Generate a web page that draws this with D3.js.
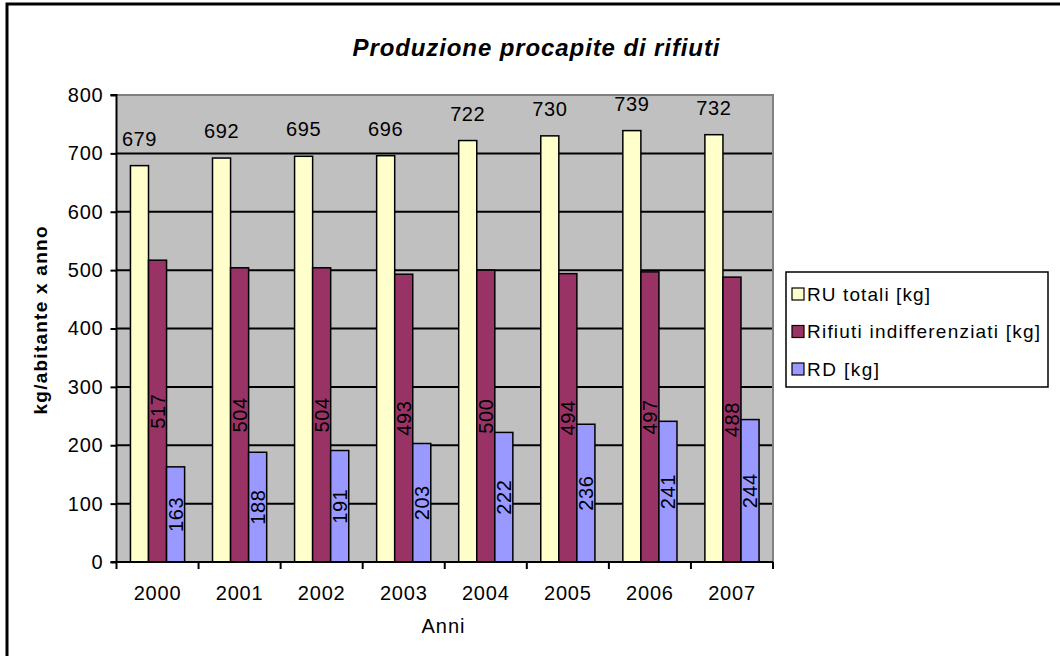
<!DOCTYPE html>
<html>
<head>
<meta charset="utf-8">
<script src="https://cdn.jsdelivr.net/npm/d3@7"></script>
<style>
  html, body { margin: 0; padding: 0; background: #fff; }
  svg { display: block; font-family: "Liberation Sans", Arial, sans-serif; }
</style>
</head>
<body>
<svg id="chart" width="1060" height="656"></svg>
<script>
// Per-capita waste production, kg per inhabitant per year
const years = ["2000", "2001", "2002", "2003", "2004", "2005", "2006", "2007"];
const seriesNames = ["RU totali [kg]", "Rifiuti indifferenziati [kg]", "RD [kg]"];
const ruTotali = [679, 692, 695, 696, 722, 730, 739, 732];
const indifferenziati = [517, 504, 504, 493, 500, 494, 497, 488];
const raccoltaDiff = [163, 188, 191, 203, 222, 236, 241, 244];
const yTicks = [0, 100, 200, 300, 400, 500, 600, 700, 800];

const seriesValues = [ruTotali, indifferenziati, raccoltaDiff];
const colors = ["#FFFFCC", "#993366", "#9999FF"];
const fontStack = "'Liberation Sans', Arial, sans-serif";

const svg = d3.select("#chart");

// Outer chart frame (top and left edges visible)
svg.append("path")
  .attr("d", "M7,656 L7,4 L1060,4")
  .attr("fill", "none")
  .attr("stroke", "#000")
  .attr("stroke-width", 3);

// Plot area bounds
const plotLeft = 116.5, plotRight = 773, plotTop = 95, plotBottom = 562;

const y = d3.scaleLinear().domain([0, 800]).range([plotBottom, plotTop]);
const xCat = d3.scaleBand().domain(years).range([plotLeft, plotRight]).padding(0);
const step = xCat.step();
const xSeries = d3.scaleBand()
  .domain(seriesNames)
  .range([step * 0.17, step * 0.83])
  .padding(0);

// Plot background
svg.append("rect")
  .attr("x", plotLeft).attr("y", plotTop)
  .attr("width", plotRight - plotLeft).attr("height", plotBottom - plotTop)
  .attr("fill", "#C0C0C0");

// Horizontal gridlines
svg.append("g")
  .selectAll("line")
  .data(yTicks.filter(d => d > 0 && d < 800))
  .join("line")
  .attr("x1", plotLeft).attr("x2", plotRight)
  .attr("y1", d => y(d)).attr("y2", d => y(d))
  .attr("stroke", "#000")
  .attr("stroke-width", 2);

// Plot area border (top and right)
svg.append("path")
  .attr("d", `M${plotLeft},${y(800)} L${plotRight},${y(800)} L${plotRight},${plotBottom}`)
  .attr("fill", "none")
  .attr("stroke", "#808080")
  .attr("stroke-width", 2);

// Bars
const rows = [];
years.forEach((yr, i) => {
  seriesNames.forEach((s, j) => {
    rows.push({ year: yr, series: s, value: seriesValues[j][i], idx: j });
  });
});

svg.append("g")
  .selectAll("rect")
  .data(rows)
  .join("rect")
  .attr("x", d => xCat(d.year) + xSeries(d.series))
  .attr("y", d => y(d.value))
  .attr("width", xSeries.bandwidth())
  .attr("height", d => y(0) - y(d.value))
  .attr("fill", d => colors[d.idx])
  .attr("stroke", "#000")
  .attr("stroke-width", 1.5);

// Value labels: totals above bars, others rotated at bar centre
const labelG = svg.append("g")
  .attr("font-size", 20)
  .attr("letter-spacing", "0.6px")
  .attr("fill", "#000");

labelG.selectAll("text.top")
  .data(rows.filter(d => d.idx === 0))
  .join("text")
  .attr("class", "top")
  .attr("x", d => xCat(d.year) + xSeries(d.series) + xSeries.bandwidth() / 2)
  .attr("y", d => y(d.value) - 20)
  .attr("text-anchor", "middle")
  .text(d => d.value);

labelG.selectAll("text.mid")
  .data(rows.filter(d => d.idx > 0))
  .join("text")
  .attr("class", "mid")
  .attr("transform", d => {
    const cx = xCat(d.year) + xSeries(d.series) + xSeries.bandwidth() / 2;
    const cy = (y(d.value) + y(0)) / 2;
    return `translate(${cx},${cy}) rotate(-90)`;
  })
  .attr("text-anchor", "middle")
  .attr("dy", "0.36em")
  .text(d => d.value);

// Y axis
const yAxis = d3.axisLeft(y).tickValues(yTicks).tickSize(6).tickPadding(7);
const yG = svg.append("g")
  .attr("transform", `translate(${plotLeft},0)`)
  .call(yAxis);
yG.attr("font-family", fontStack);
yG.select(".domain").attr("stroke", "#000").attr("stroke-width", 2)
  .attr("d", `M-6,${y(800)}H0V${plotBottom}H-6`);
yG.selectAll(".tick line").attr("stroke", "#000").attr("stroke-width", 2);
yG.selectAll(".tick text")
  .attr("font-size", 20)
  .attr("letter-spacing", "0.8px")
  .attr("fill", "#000");

// X axis: labels centred in each year slot, ticks on slot boundaries
const xAxis = d3.axisBottom(xCat).tickSize(0).tickPadding(24);
const xG = svg.append("g")
  .attr("transform", `translate(0,${plotBottom})`)
  .call(xAxis);
xG.attr("font-family", fontStack);
xG.select(".domain").attr("stroke", "#000").attr("stroke-width", 2)
  .attr("d", `M${plotLeft},0H${plotRight}`);
xG.selectAll(".tick text")
  .attr("font-size", 20)
  .attr("letter-spacing", "0.8px")
  .attr("fill", "#000");

const boundaries = years.map(d => xCat(d)).concat([plotRight]);
svg.append("g")
  .selectAll("line")
  .data(boundaries)
  .join("line")
  .attr("x1", d => d).attr("x2", d => d)
  .attr("y1", plotBottom).attr("y2", plotBottom + 7)
  .attr("stroke", "#000")
  .attr("stroke-width", 2);

// Title
svg.append("text")
  .attr("x", 536).attr("y", 56)
  .attr("text-anchor", "middle")
  .attr("font-size", 24)
  .attr("font-weight", "bold")
  .attr("font-style", "italic")
  .attr("textLength", 367)
  .attr("lengthAdjust", "spacing")
  .text("Produzione procapite di rifiuti");

// Axis titles
svg.append("text")
  .attr("transform", `translate(47,${(plotTop + plotBottom) / 2 - 8}) rotate(-90)`)
  .attr("text-anchor", "middle")
  .attr("font-size", 19)
  .attr("font-weight", "bold")
  .attr("textLength", 188)
  .attr("lengthAdjust", "spacing")
  .text("kg/abitante x anno");

svg.append("text")
  .attr("x", 443).attr("y", 633)
  .attr("text-anchor", "middle")
  .attr("font-size", 20)
  .attr("textLength", 43)
  .attr("lengthAdjust", "spacing")
  .text("Anni");

// Legend
const legend = svg.append("g").attr("transform", "translate(786,272)");
legend.append("rect")
  .attr("width", 262).attr("height", 115)
  .attr("fill", "#fff")
  .attr("stroke", "#000")
  .attr("stroke-width", 1.5);

const legendWidths = [123, 233, 72];
const item = legend.selectAll("g.item")
  .data(seriesNames)
  .join("g")
  .attr("class", "item")
  .attr("transform", (d, i) => `translate(0,${22 + i * 37.5})`);
item.append("rect")
  .attr("x", 6).attr("y", -6)
  .attr("width", 12).attr("height", 12)
  .attr("fill", (d, i) => colors[i])
  .attr("stroke", "#000")
  .attr("stroke-width", 1.2);
item.append("text")
  .attr("x", 21).attr("y", 0)
  .attr("dy", "0.35em")
  .attr("font-size", 19)
  .attr("textLength", (d, i) => legendWidths[i])
  .attr("lengthAdjust", "spacing")
  .text(d => d);
</script>
</body>
</html>
